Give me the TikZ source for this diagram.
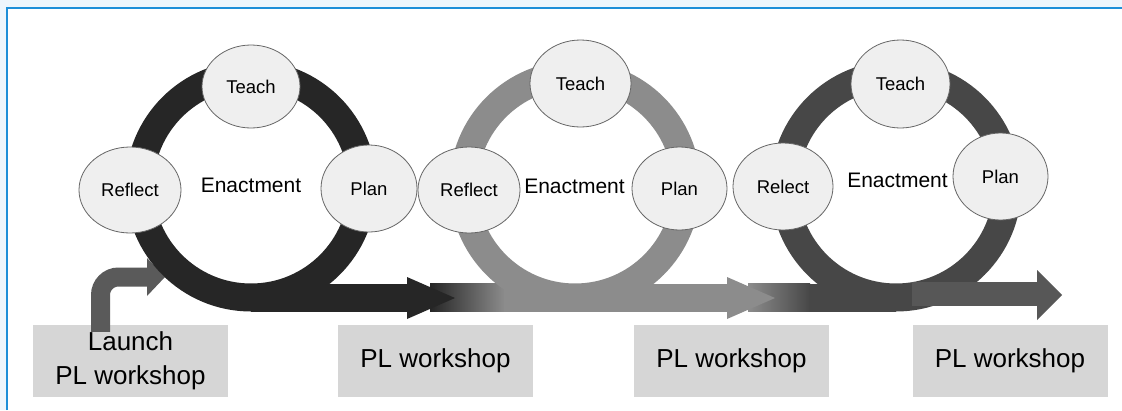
\documentclass[tikz,border=0pt]{standalone}
\usepackage{fontspec}
\setmainfont{Liberation Sans}
\usetikzlibrary{shapes.geometric}
\definecolor{framebg}{HTML}{EEF6FC}
\definecolor{frameblue}{HTML}{1E8FD8}
\definecolor{loopA}{HTML}{262626}
\definecolor{loopB}{HTML}{8C8C8C}
\definecolor{loopC}{HTML}{474747}
\definecolor{arrowC}{HTML}{575757}
\definecolor{launchgray}{HTML}{5A5A5A}
\definecolor{boxgray}{HTML}{D6D6D6}
\definecolor{bubblefill}{HTML}{EFEFEF}
\tikzset{
	bubble/.style={ellipse, draw=black!60, fill=bubblefill, line width=0.8pt, inner sep=0pt, font=\fontsize{18.5}{20}\selectfont},
	workshop/.style={fill=boxgray, minimum width=195pt, minimum height=72pt, inner sep=0pt, align=center, font=\fontsize{26}{34}\selectfont},
	cyclelabel/.style={inner sep=0pt, font=\fontsize{21}{24}\selectfont}
}
% arrow head: base x, mid y, half height, length
\def\headright(#1,#2:#3:#4)[#5]{\fill[#5] (#1,#2-#3) -- (#1+#4,#2) -- (#1,#2+#3) -- cycle;}

\begin{document}
\begin{tikzpicture}[x=1pt,y=-1pt]
	%%%%% START %%%%%
	\useasboundingbox (0,0) rectangle (1122,410);
	\fill[framebg] (0,0) rectangle (1122,410);
	\fill[white] (7,8) rectangle (1122,410);
	\draw[frameblue, line width=1.5pt] (7,410) -- (7,8) -- (1122,8);
	
	\coordinate (ringA) at (251,186);
	\coordinate (ringB) at (575,186);
	\coordinate (ringC) at (896,186);
	
	% workshops
	\node[workshop] (launch) at (130.5,361) {Launch\\PL workshop};
	\node[workshop] (shopA) at (435.5,361) {PL workshop};
	\node[workshop] (shopB) at (731.5,361) {PL workshop};
	\node[workshop] (shopC) at (1010,361) {PL workshop};
	
	% bands running in under the next loop
	\shade[left color=loopA, right color=loopB] (430,283.5) rectangle (505,311.5);
	\fill[loopB] (504,283.5) rectangle (575,311.5);
	\shade[left color=loopB, right color=loopC] (748,283.5) rectangle (810,311.5);
	\fill[loopC] (809,283.5) rectangle (896,311.5);
	
	% launch arrow
	\draw[launchgray, line width=19pt, rounded corners=18pt] ([xshift=-30pt,yshift=-7pt]launch.north) |- (148,277);
	\headright(147,277:19:18)[launchgray]
	
	% loops
	\draw[loopA, line width=28pt] (ringA) circle (111.5);
	\draw[loopB, line width=28pt] (ringB) circle (111.5);
	\draw[loopC, line width=28pt] (ringC) circle (111.5);
	
	\fill[loopA] (251,283.5) rectangle (408,311.5);
	\headright(407,298:21:48)[loopA]
	\fill[loopB] (575,283.5) rectangle (728,311.5);
	\headright(727,298:21:48)[loopB]
	\fill[arrowC] (912,282) rectangle (1038,306);
	\headright(1037,295:25:25)[arrowC]
	
	% first loop
	\node[bubble, minimum width=98pt, minimum height=83pt] (teachA) at (251,86.5) {Teach};
	\node[bubble, minimum width=102pt, minimum height=86pt] (reflectA) at (130,190) {Reflect};
	\node[bubble, minimum width=96pt, minimum height=87pt] (planA) at (369,188.5) {Plan};
	\node[cyclelabel] (enactA) at (251,185) {Enactment};
	
	% second loop
	\node[bubble, minimum width=101pt, minimum height=87pt] (teachB) at (580.5,83.5) {Teach};
	\node[bubble, minimum width=102pt, minimum height=86pt] (reflectB) at (469,190) {Reflect};
	\node[bubble, minimum width=95pt, minimum height=83pt] (planB) at (679.5,188.5) {Plan};
	\node[cyclelabel] (enactB) at (574.5,186) {Enactment};
	
	% third loop
	\node[bubble, minimum width=99pt, minimum height=88pt] (teachC) at (900.5,84) {Teach};
	\node[bubble, minimum width=100pt, minimum height=87pt] (reflectC) at (783,186.5) {Relect};
	\node[bubble, minimum width=95pt, minimum height=87pt] (planC) at (1000.5,176.5) {Plan};
	\node[cyclelabel] (enactC) at (897.5,180) {Enactment};
	%%%%% END %%%%%
\end{tikzpicture}
\end{document}
